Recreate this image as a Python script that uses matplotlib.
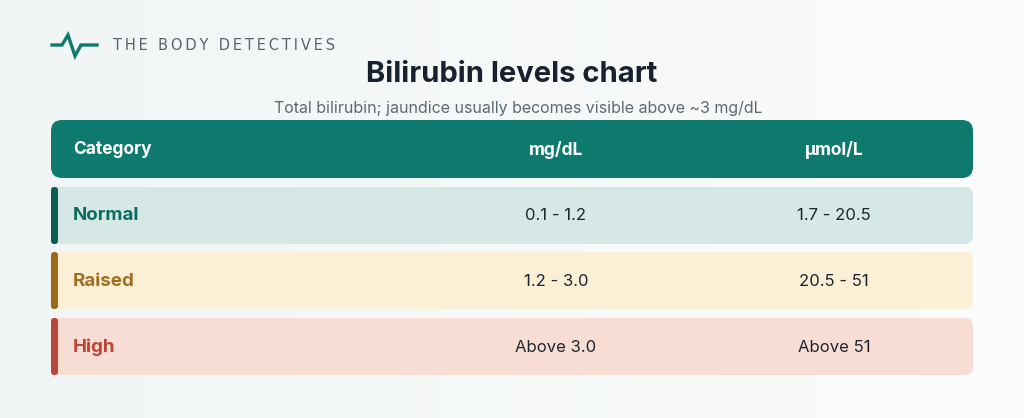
import matplotlib.pyplot as plt
from matplotlib.patches import FancyBboxPatch
import numpy as np

plt.rcParams['font.family'] = ['Inter', 'DejaVu Sans']

headers = ['Category', 'mg/dL', 'µmol/L']
categories = ['Normal', 'Raised', 'High']
mg_dl = ['0.1 - 1.2', '1.2 - 3.0', 'Above 3.0']
umol_l = ['1.7 - 20.5', '20.5 - 51', 'Above 51']
row_bg = ['#d6e8e6', '#fbefd5', '#f8ddd5']
accent = ['#0b5e55', '#9a6b1e', '#b8463a']
label_col = ['#0b6b5e', '#a0701f', '#bf4535']

fig = plt.figure(figsize=(10.24, 4.18), dpi=100)
ax = fig.add_axes([0, 0, 1, 1])
ax.set_xlim(0, 1024)
ax.set_ylim(418, 0)
ax.axis('off')

# soft background gradient
grad = np.linspace(0, 1, 256).reshape(1, -1)
ax.imshow(grad, extent=[0, 1024, 418, 0], cmap=plt.matplotlib.colors.LinearSegmentedColormap.from_list('bg', ['#f1f5f5', '#fbfcfc']), aspect='auto', zorder=0)

# logo
ax.plot([52, 62, 68, 75, 81, 97], [45, 45, 35, 56, 45, 45], color='#0e7a6e', lw=2.4, solid_joinstyle='miter', zorder=2)
ax.text(113, 45, ' '.join('THE BODY DETECTIVES'.split(' ')).replace('', '\u2009').strip(),
        fontsize=10.5, color='#56656d', va='center', ha='left', family=['DejaVu Sans'])

ax.text(512, 75, 'Bilirubin levels chart', fontsize=21, fontweight='bold', color='#17222e', ha='center', va='center')
ax.text(518, 108, 'Total bilirubin; jaundice usually becomes visible above ~3 mg/dL', fontsize=11.5, color='#5d6a72', ha='center', va='center')

col_x = [73, 556, 834]
left, right = 51, 973

# header
ax.add_patch(FancyBboxPatch((left, 120), right - left, 58, boxstyle='round,pad=0,rounding_size=11', fc='#0e7a6e', ec='none', zorder=2))
for i, h in enumerate(headers):
    ax.text(col_x[i], 150, h, fontsize=12.5, fontweight='bold', color='white', ha='left' if i == 0 else 'center', va='center', zorder=3)

row_top = [187, 252, 318]
for i, cat in enumerate(categories):
    y0 = row_top[i]
    ax.add_patch(FancyBboxPatch((left, y0), right - left, 57, boxstyle='round,pad=0,rounding_size=8', fc=row_bg[i], ec='none', zorder=2))
    ax.add_patch(FancyBboxPatch((left, y0), 7, 57, boxstyle='round,pad=0,rounding_size=3', fc=accent[i], ec='none', zorder=3))
    yc = y0 + 29
    ax.text(col_x[0], yc, cat, fontsize=13.5, fontweight='bold', color=label_col[i], ha='left', va='center', zorder=3)
    ax.text(col_x[1], yc, mg_dl[i], fontsize=12, color='#1c2530', ha='center', va='center', zorder=3)
    ax.text(col_x[2], yc, umol_l[i], fontsize=12, color='#1c2530', ha='center', va='center', zorder=3)

fig.savefig('out.png', dpi=100)
